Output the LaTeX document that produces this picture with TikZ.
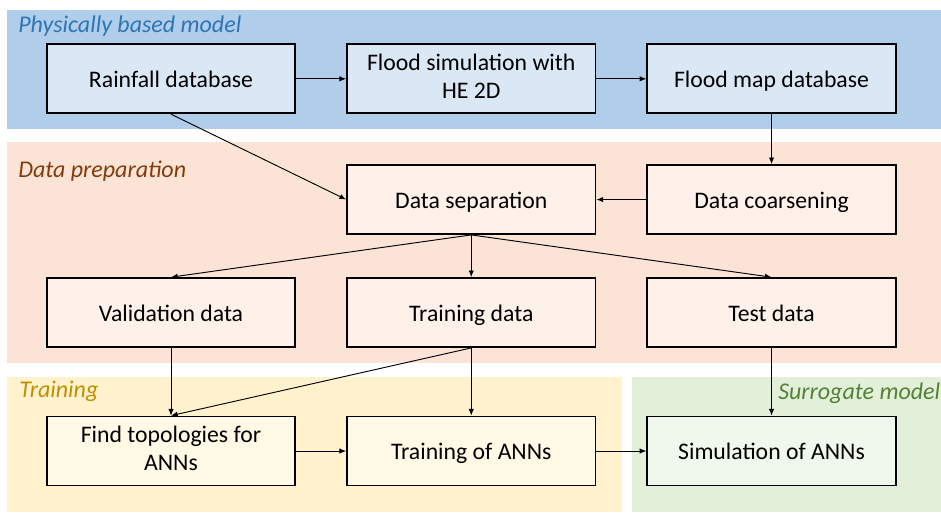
\documentclass[tikz,border=0pt]{standalone}
\usepackage{fontspec}
\setmainfont{Carlito}
\usepackage{xcolor}
\usetikzlibrary{arrows.meta,positioning,backgrounds}

\definecolor{pbmband}{HTML}{B0CDEA}
\definecolor{pbmbox}{HTML}{DAE8F6}
\definecolor{pbmtext}{HTML}{2E75B6}
\definecolor{prepband}{HTML}{FBE4D6}
\definecolor{prepbox}{HTML}{FDF1EA}
\definecolor{preptext}{HTML}{843C0C}
\definecolor{trainband}{HTML}{FFF2CC}
\definecolor{trainbox}{HTML}{FFF9E6}
\definecolor{traintext}{HTML}{BF9000}
\definecolor{surrband}{HTML}{E2F0D9}
\definecolor{surrbox}{HTML}{F0F7EC}
\definecolor{surrtext}{HTML}{548235}

\newcommand{\boxstrut}{\rule[-4pt]{0pt}{21pt}}

\begin{document}
\begin{tikzpicture}[
  x=0.75pt, y=0.75pt,
  box/.style={draw, line width=1.3pt, align=center, minimum width=186.4pt, minimum height=51.75pt, inner sep=2pt,
    font=\fontsize{17.8}{20.5}\selectfont, execute at begin node=\boxstrut, execute at end node=\boxstrut},
  flow/.style={-{Latex[length=5pt,width=4pt]}, line width=0.7pt},
  tag/.style={anchor=base west, inner sep=0pt, font=\fontsize{18}{20}\selectfont\itshape},
  node distance=37.5pt and 37.5pt
]
\useasboundingbox (0,0) rectangle (941,-512);

% boxes
\node[box, fill=pbmbox] (rain) at (171,-78.8) {Rainfall database};
\node[box, fill=pbmbox, right=of rain] (floodsim) {Flood simulation with\\HE 2D};
\node[box, fill=pbmbox, right=of floodsim] (floodmap) {Flood map database};
\node[box, fill=prepbox, below=37.5pt of floodmap] (coarse) {Data coarsening};
\node[box, fill=prepbox, left=of coarse] (sep) {Data separation};
\node[box, fill=prepbox, below=31.7pt of sep] (train) {Training data};
\node[box, fill=prepbox, left=of train] (valid) {Validation data};
\node[box, fill=prepbox, right=of train] (test) {Test data};
\node[box, fill=trainbox, below=50.8pt of train] (annfit) {Training of ANNs};
\node[box, fill=trainbox, left=of annfit] (topo) {Find topologies for\\ANNs};
\node[box, fill=surrbox, right=of annfit] (annsim) {Simulation of ANNs};

% bands
\begin{scope}[on background layer]
  \fill[pbmband] (7.3,-10) rectangle (941,-129);
  \fill[prepband] (7.3,-141.7) rectangle (941,-363.3);
  \fill[trainband] (7.3,-376.7) rectangle (622.3,-512);
  \fill[surrband] (631.7,-376.7) rectangle (941,-512);
\end{scope}

\node[tag, text=pbmtext] (pbmtag) at (18,-32) {Physically based model};
\node[tag, text=preptext] (preptag) at (18,-177) {Data preparation};
\node[tag, text=traintext] (traintag) at (19,-397) {Training};
\node[tag, text=surrtext] (surrtag) at (778,-399) {Surrogate model};

% arrows
\draw[flow] (rain) -- (floodsim);
\draw[flow] (floodsim) -- (floodmap);
\draw[flow] (rain.south) -- (sep.west);
\draw[flow] (floodmap) -- (coarse);
\draw[flow] (coarse) -- (sep);
\draw[flow] (sep.south) -- (valid.north);
\draw[flow] (sep.south) -- (train.north);
\draw[flow] (sep.south) -- (test.north);
\draw[flow] (valid) -- (topo);
\draw[flow] (train.south) -- (topo.north);
\draw[flow] (train) -- (annfit);
\draw[flow] (test) -- (annsim);
\draw[flow] (topo) -- (annfit);
\draw[flow] (annfit) -- (annsim);
\end{tikzpicture}
\end{document}
